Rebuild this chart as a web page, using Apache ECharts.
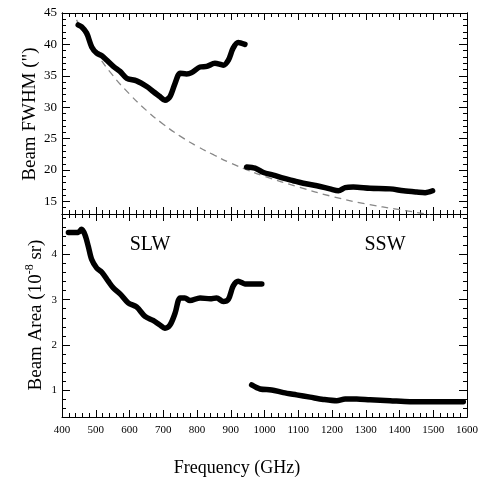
<!DOCTYPE html>
<html><head><meta charset="utf-8">
<script src="https://cdn.jsdelivr.net/npm/echarts@6/dist/echarts.min.js"></script>
<style>html,body{margin:0;padding:0;background:#fff}#c{width:483px;height:479px}</style>
</head><body><div id="c"></div>
<script>
// ---- data ----
const fwhmSLW = [[448,43.1],[458,42.8],[473,41.8],[488,39.6],[503,38.6],[518,38.2],[532,37.5],[552,36.5],[572,35.7],[592,34.6],[621,34.2],[651,33.3],[670,32.5],[690,31.7],[705,31.1],[720,31.7],[735,33.8],[750,35.4],[769,35.3],[784,35.5],[809,36.4],[829,36.5],[853,37.0],[878,36.7],[893,37.5],[907,39.4],[922,40.3],[942,40.0]];
const fwhmSSW = [[947,20.5],[972,20.3],[997,19.6],[1026,19.2],[1056,18.7],[1085,18.3],[1115,17.9],[1155,17.5],[1194,17.0],[1219,16.7],[1239,17.2],[1263,17.3],[1313,17.1],[1372,17.0],[1412,16.7],[1451,16.5],[1476,16.4],[1498,16.7]];
const fwhmModel = [[443,43.9],[500,38.8],[550,35.1],[600,32.1],[650,29.5],[700,27.3],[750,25.4],[800,23.8],[850,22.4],[900,21.1],[950,20.0],[1000,19.0],[1100,17.3],[1200,15.8],[1300,14.6],[1400,13.7],[1490,12.9]];
const areaSLW = [[419,4.49],[448,4.49],[458,4.56],[468,4.44],[478,4.18],[488,3.89],[503,3.70],[518,3.61],[537,3.41],[552,3.26],[572,3.13],[596,2.93],[621,2.84],[646,2.63],[670,2.54],[690,2.44],[705,2.37],[720,2.44],[735,2.70],[750,3.04],[764,3.04],[779,2.98],[809,3.04],[839,3.02],[858,3.04],[878,2.96],[893,3.01],[907,3.30],[922,3.41],[942,3.35],[992,3.35]];
const areaSSW = [[962,1.11],[987,1.02],[1021,1.00],[1056,0.94],[1095,0.89],[1135,0.84],[1174,0.79],[1214,0.76],[1239,0.80],[1273,0.80],[1313,0.78],[1372,0.76],[1431,0.74],[1490,0.74],[1589,0.74]];
const fwhmTicks = [15,20,25,30,35,40,45];
const fwhmMinor = [14,16,17,18,19,21,22,23,24,26,27,28,29,31,32,33,34,36,37,38,39,41,42,43,44];
const areaTicks = [1,2,3,4];
const areaMinor = [0.6,0.8,1.2,1.4,1.6,1.8,2.2,2.4,2.6,2.8,3.2,3.4,3.6,3.8,4.2,4.4,4.6,4.8];
const labels = { top:'Beam FWHM (")', xTitle:'Frequency (GHz)', left:'SLW', right:'SSW' };

const FONT = 'Liberation Serif';
const black = '#000';
function xAx(grid, pos, showLabel) {
  return { type:'value', gridIndex:grid, position:pos, min:400, max:1600, interval:100,
    axisLine:{show:true, onZero:false, lineStyle:{color:black, width:1}},
    axisTick:{show:true, inside:true, length:7, lineStyle:{color:black}},
    minorTick:{show:true, splitNumber:5, length:4, lineStyle:{color:black}},
    splitLine:{show:false}, minorSplitLine:{show:false},
    axisLabel:{show:showLabel, color:black, fontFamily:FONT, fontSize:11, margin:8, formatter:v=>String(v)}};
}
function yAx(grid, pos, min, max, vals, len, showLabel, fs) {
  return { type:'value', gridIndex:grid, position:pos, min:min, max:max,
    axisLine:{show:true, onZero:false, lineStyle:{color:black, width:1}},
    axisTick:{show:true, inside:true, length:len, customValues:vals, lineStyle:{color:black}},
    splitLine:{show:false},
    axisLabel:{show:showLabel, customValues:vals, color:black, fontFamily:FONT, fontSize:fs||12, margin:5}};
}
const thick = {color:black, width:5.5, cap:'round', join:'round'};
const option = {
  animation:false,
  backgroundColor:'#fff',
  grid:[
    {left:62, right:16, top:13, height:201},
    {left:62, right:16, top:214, height:203}
  ],
  xAxis:[ xAx(0,'bottom',false), xAx(0,'top',false), xAx(1,'bottom',true), xAx(1,'top',false) ],
  yAxis:[
    yAx(0,'left',13,45,fwhmTicks,8,true,13), yAx(0,'left',13,45,fwhmMinor,4,false),
    yAx(0,'right',13,45,fwhmTicks,8,false), yAx(0,'right',13,45,fwhmMinor,4,false),
    yAx(1,'left',0.4,4.9,areaTicks,8,true,11), yAx(1,'left',0.4,4.9,areaMinor,4,false),
    yAx(1,'right',0.4,4.9,areaTicks,8,false), yAx(1,'right',0.4,4.9,areaMinor,4,false)
  ],
  series:[
    {type:'line', xAxisIndex:0, yAxisIndex:0, data:fwhmModel, showSymbol:false, smooth:true, lineStyle:{color:'#888', width:1.3, type:[7,5]}},
    {type:'line', xAxisIndex:0, yAxisIndex:0, data:fwhmSLW, showSymbol:false, smooth:0.3, lineStyle:thick},
    {type:'line', xAxisIndex:0, yAxisIndex:0, data:fwhmSSW, showSymbol:false, smooth:0.3, lineStyle:thick},
    {type:'line', xAxisIndex:2, yAxisIndex:4, data:areaSLW, showSymbol:false, smooth:0.3, lineStyle:thick},
    {type:'line', xAxisIndex:2, yAxisIndex:4, data:areaSSW, showSymbol:false, smooth:0.3, lineStyle:thick}
  ],
  graphic:[
    {type:'text', x:30, y:114, rotation:Math.PI/2, style:{text:labels.top, font:'19px "Liberation Serif"', fill:black, align:'center', verticalAlign:'middle'}},
    {type:'text', x:35, y:315, rotation:Math.PI/2, style:{text:'{a|Beam Area (10}{s|-8}{a| sr)}', align:'center', verticalAlign:'middle', fill:black,
      rich:{a:{fontFamily:FONT, fontSize:19, color:black, lineHeight:22, verticalAlign:'bottom'}, s:{fontFamily:FONT, fontSize:12, color:black, lineHeight:22, verticalAlign:'top'}}}},
    {type:'text', x:237, y:468, style:{text:labels.xTitle, font:'18px "Liberation Serif"', fill:black, align:'center', verticalAlign:'middle'}},
    {type:'text', x:150, y:245, style:{text:labels.left, font:'20px "Liberation Serif"', fill:black, align:'center', verticalAlign:'middle'}},
    {type:'text', x:385, y:245, style:{text:labels.right, font:'20px "Liberation Serif"', fill:black, align:'center', verticalAlign:'middle'}}
  ]
};
const chart = echarts.init(document.getElementById('c'), null, {renderer:'canvas'});
chart.setOption(option);
</script></body></html>
